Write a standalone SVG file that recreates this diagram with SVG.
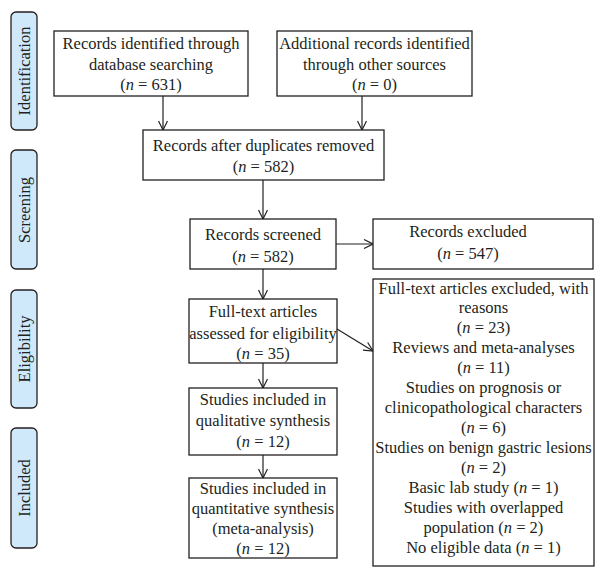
<svg xmlns="http://www.w3.org/2000/svg" width="604" height="577" viewBox="0 0 604 577">
<defs>
<style>
.box{fill:#fff;stroke:#231f20;stroke-width:1.3}
.tab{fill:#cfe9fa;stroke:#231f20;stroke-width:1.3}
text{font-family:"Liberation Serif","Times New Roman",serif;font-size:16.5px;fill:#231f20;text-anchor:middle}
.c{stroke:#231f20;stroke-width:1.2;fill:none}
</style>
<marker id="ah" viewBox="0 0 10 10" refX="10" refY="5" markerWidth="10" markerHeight="10" markerUnits="userSpaceOnUse" orient="auto">
<path d="M1,0.5 L10,5 L1,9.5" fill="none" stroke="#231f20" stroke-width="1.2"/>
</marker>
</defs>

<g id="tab-identification"><rect class="tab" x="11" y="12" width="26" height="118" rx="5"/><text transform="translate(30,71) rotate(-90)">Identification</text></g>
<g id="tab-screening"><rect class="tab" x="11" y="150" width="26" height="119" rx="5"/><text transform="translate(30,210) rotate(-90)">Screening</text></g>
<g id="tab-eligibility"><rect class="tab" x="11" y="290" width="26" height="118" rx="5"/><text transform="translate(30,349) rotate(-90)">Eligibility</text></g>
<g id="tab-included"><rect class="tab" x="11" y="428" width="26" height="120" rx="5"/><text transform="translate(30,488) rotate(-90)">Included</text></g>

<g id="n1"><rect class="box" x="54" y="31" width="194" height="65"/><text x="151" y="49">Records identified through</text><text x="151" y="70">database searching</text><text x="151" y="90">(<tspan font-style="italic">n</tspan> = 631)</text></g>
<g id="n2"><rect class="box" x="277" y="31" width="195" height="65"/><text x="374.5" y="49">Additional records identified</text><text x="374.5" y="70">through other sources</text><text x="374.5" y="90">(<tspan font-style="italic">n</tspan> = 0)</text></g>
<g id="n3"><rect class="box" x="143" y="130" width="241" height="50"/><text x="263.5" y="151">Records after duplicates removed</text><text x="263.5" y="172">(<tspan font-style="italic">n</tspan> = 582)</text></g>
<g id="n4"><rect class="box" x="190" y="219" width="146" height="50"/><text x="263" y="240">Records screened</text><text x="263" y="262">(<tspan font-style="italic">n</tspan> = 582)</text></g>
<g id="n5"><rect class="box" x="373" y="219" width="220" height="50"/><text x="468" y="237">Records excluded</text><text x="468" y="259">(<tspan font-style="italic">n</tspan> = 547)</text></g>
<g id="n6"><rect class="box" x="189" y="299" width="148" height="64"/><text x="263" y="317">Full-text articles</text><text x="263" y="339">assessed for eligibility</text><text x="263" y="359">(<tspan font-style="italic">n</tspan> = 35)</text></g>
<g id="n7"><rect class="box" x="373" y="279" width="221" height="287"/>
<text x="483.5" y="294">Full-text articles excluded, with</text>
<text x="483.5" y="313">reasons</text>
<text x="483.5" y="333">(<tspan font-style="italic">n</tspan> = 23)</text>
<text x="483.5" y="353">Reviews and meta-analyses</text>
<text x="483.5" y="373">(<tspan font-style="italic">n</tspan> = 11)</text>
<text x="483.5" y="393">Studies on prognosis or</text>
<text x="483.5" y="413">clinicopathological characters</text>
<text x="483.5" y="433">(<tspan font-style="italic">n</tspan> = 6)</text>
<text x="483.5" y="453">Studies on benign gastric lesions</text>
<text x="483.5" y="473">(<tspan font-style="italic">n</tspan> = 2)</text>
<text x="483.5" y="493">Basic lab study (<tspan font-style="italic">n</tspan> = 1)</text>
<text x="483.5" y="513">Studies with overlapped</text>
<text x="483.5" y="533">population (<tspan font-style="italic">n</tspan> = 2)</text>
<text x="483.5" y="553">No eligible data (<tspan font-style="italic">n</tspan> = 1)</text>
</g>
<g id="n8"><rect class="box" x="189" y="388" width="148" height="67"/><text x="263" y="405">Studies included in</text><text x="263" y="426">qualitative synthesis</text><text x="263" y="447">(<tspan font-style="italic">n</tspan> = 12)</text></g>
<g id="n9"><rect class="box" x="189" y="478" width="148" height="80"/><text x="263" y="494">Studies included in</text><text x="263" y="514">quantitative synthesis</text><text x="263" y="534">(meta-analysis)</text><text x="263" y="554">(<tspan font-style="italic">n</tspan> = 12)</text></g>

<g id="connectors">
<line class="c" x1="163" y1="96" x2="163" y2="130" marker-end="url(#ah)"/>
<line class="c" x1="362" y1="96" x2="362" y2="130" marker-end="url(#ah)"/>
<line class="c" x1="263" y1="180" x2="263" y2="219" marker-end="url(#ah)"/>
<line class="c" x1="336" y1="244" x2="373" y2="244" marker-end="url(#ah)"/>
<line class="c" x1="263" y1="269" x2="263" y2="299" marker-end="url(#ah)"/>
<line class="c" x1="337" y1="329" x2="373" y2="351" marker-end="url(#ah)"/>
<line class="c" x1="263" y1="363" x2="263" y2="388" marker-end="url(#ah)"/>
<line class="c" x1="263" y1="455" x2="263" y2="478" marker-end="url(#ah)"/>
</g>
</svg>
